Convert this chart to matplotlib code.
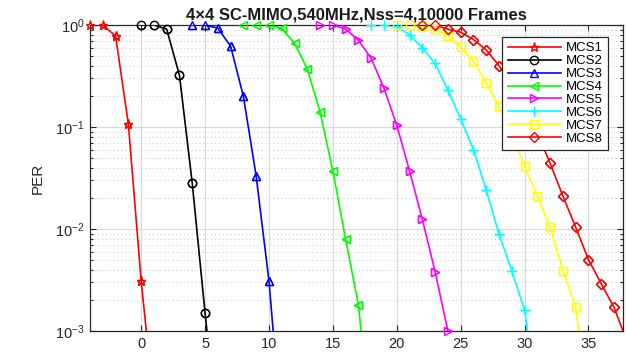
import matplotlib
matplotlib.use('Agg')
import matplotlib.pyplot as plt
from matplotlib.ticker import LogLocator, NullFormatter

plt.rcParams['font.family'] = ['Liberation Sans', 'DejaVu Sans']
plt.rcParams['mathtext.default'] = 'regular'

# SNR (dB) points and PER per MCS
snr_mcs1 = [-4, -3, -2, -1, 0, 1]
per_mcs1 = [1, 1, 0.78, 0.107, 0.0031, 1.9e-4]

snr_mcs2 = [0, 1, 2, 3, 4, 5, 6]
per_mcs2 = [1, 1, 0.91, 0.32, 0.028, 0.0015, 1e-4]

snr_mcs3 = [4, 5, 6, 7, 8, 9, 10, 11]
per_mcs3 = [1, 1, 0.93, 0.62, 0.20, 0.033, 0.0031, 1e-4]

snr_mcs4 = [8, 9, 10, 11, 12, 13, 14, 15, 16, 17, 18]
per_mcs4 = [1, 1, 1, 0.93, 0.66, 0.37, 0.14, 0.037, 0.0079, 0.0018, 1e-4]

snr_mcs5 = [14, 15, 16, 17, 18, 19, 20, 21, 22, 23, 24]
per_mcs5 = [1, 1, 0.91, 0.71, 0.47, 0.24, 0.104, 0.037, 0.0124, 0.0038, 0.001]

snr_mcs6 = [18, 19, 20, 21, 22, 23, 24, 25, 26, 27, 28, 29, 30, 31]
per_mcs6 = [1, 1, 0.97, 0.80, 0.60, 0.42, 0.23, 0.12, 0.060, 0.024, 0.0089,
            0.0039, 0.0016, 2e-4]

snr_mcs7 = [20, 21, 22, 23, 24, 25, 26, 27, 28, 29, 30, 31, 32, 33, 34, 35]
per_mcs7 = [1, 1, 0.98, 0.92, 0.78, 0.61, 0.44, 0.27, 0.16, 0.085, 0.041,
            0.021, 0.0104, 0.0039, 0.0017, 2e-4]

snr_mcs8 = [22, 23, 24, 25, 26, 27, 28, 29, 30, 31, 32, 33, 34, 35, 36, 37, 38]
per_mcs8 = [1, 1, 0.91, 0.85, 0.72, 0.57, 0.40, 0.26, 0.16, 0.087, 0.044,
            0.021, 0.0104, 0.0050, 0.0029, 0.0017, 0.0008]

labels = ['MCS1', 'MCS2', 'MCS3', 'MCS4', 'MCS5', 'MCS6', 'MCS7', 'MCS8']
colors = ['#ff0000', '#000000', '#0000ff', '#00ff00', '#ff00ff', '#00ffff',
          '#ffff00', '#ff0000']
markers = ['*', 'o', '^', '<', '>', '+', 's', 'D']

series = [(snr_mcs1, per_mcs1), (snr_mcs2, per_mcs2), (snr_mcs3, per_mcs3),
          (snr_mcs4, per_mcs4), (snr_mcs5, per_mcs5), (snr_mcs6, per_mcs6),
          (snr_mcs7, per_mcs7), (snr_mcs8, per_mcs8)]

x_min, x_max = -4, 37.7
y_min, y_max = 1e-3, 1

fig = plt.figure(figsize=(6.26, 3.52), dpi=100)
ax = fig.add_axes([0.1438, 0.0597, 0.8514, 0.8693])

for (x, y), lab, c, m in zip(series, labels, colors, markers):
    ms = 6.5 if m in ('*', '+') else 6
    if m == 'D':
        ms = 5
    style = dict(color=c, marker=m, markersize=ms, markerfacecolor='none',
                 markeredgecolor=c, markeredgewidth=1.0)
    ax.semilogy(x, y, linewidth=1.2, label=lab, **style)
    # matlab-like: markers on the axes edge are drawn whole
    inside = [(a, b) for a, b in zip(x, y)
              if x_min <= a <= x_max and y_min * 0.999 <= b <= y_max]
    ax.plot([a for a, b in inside], [b for a, b in inside], linestyle='none',
            clip_on=False, zorder=3, **style)

ax.set_xlim(x_min, x_max)
ax.set_ylim(y_min, y_max)
ax.set_xticks([0, 5, 10, 15, 20, 25, 30, 35])
ax.yaxis.set_major_locator(LogLocator(base=10, numticks=10))
ax.yaxis.set_minor_locator(LogLocator(base=10, subs=range(2, 10), numticks=10))
ax.yaxis.set_minor_formatter(NullFormatter())

ax.grid(True, which='major', color='#d9d9d9', linestyle='-', linewidth=0.8)
ax.grid(True, which='minor', axis='y', color='#d0d0d0', linestyle=(0, (1, 2.5)),
        linewidth=0.8)
ax.set_axisbelow(True)

ax.tick_params(which='both', direction='in', top=True, right=True,
               colors='#262626', labelsize=10.5, width=0.8)
ax.tick_params(which='major', length=4, pad=4)
ax.tick_params(which='minor', length=2)
for s in ax.spines.values():
    s.set_color('#262626')
    s.set_linewidth(0.9)

ax.set_ylabel('PER', fontsize=11, color='#262626', labelpad=7)
ax.set_title('4\u00d74 SC-MIMO,540MHz,Nss=4,10000 Frames', fontsize=12,
             fontweight='bold', color='#1a1a1a', pad=4)

leg = ax.legend(loc='upper right', bbox_to_anchor=(0.972, 0.961), borderaxespad=0,
                fontsize=9.5, handlelength=4.0, handletextpad=0.4, labelspacing=0.05,
                borderpad=0.4, fancybox=False, framealpha=1, edgecolor='#262626')
leg.get_frame().set_linewidth(0.9)
leg.set_zorder(5)

fig.savefig('out.png', dpi=100)
